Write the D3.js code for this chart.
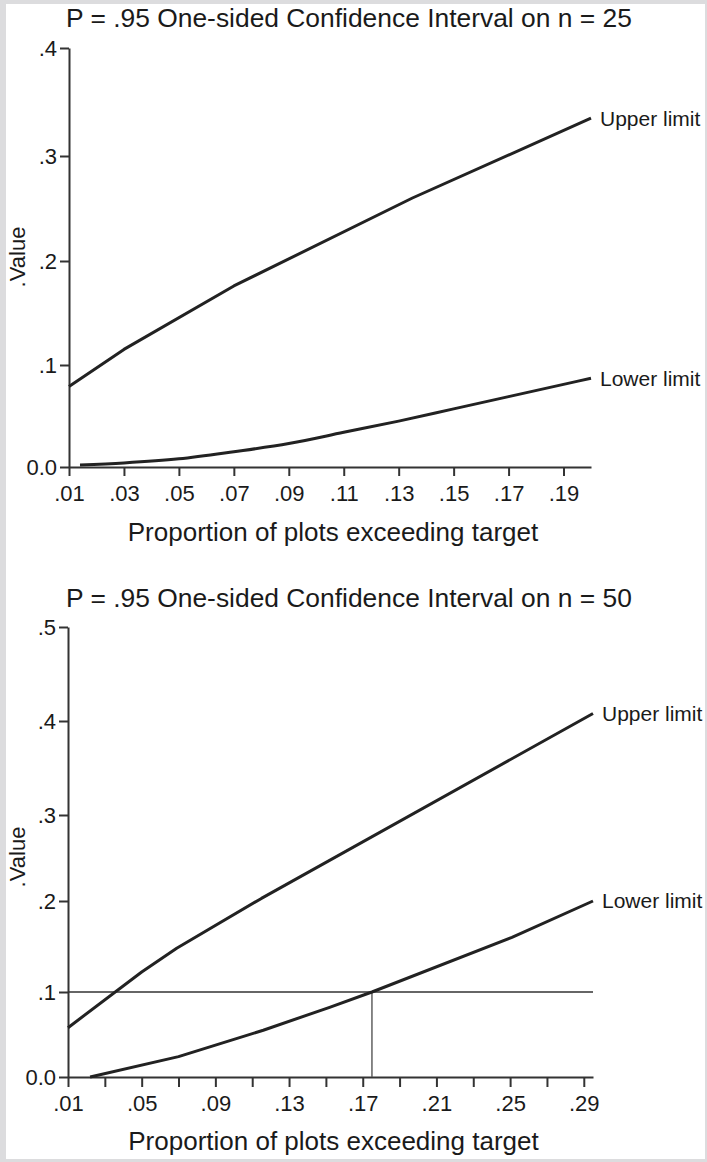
<!DOCTYPE html>
<html>
<head>
<meta charset="utf-8">
<script src="https://cdnjs.cloudflare.com/ajax/libs/d3/7.8.5/d3.min.js"></script>
<style>
  html, body { margin: 0; padding: 0; background: #dcdcde; }
  svg { display: block; }
  text { font-family: "Liberation Sans", Arial, sans-serif; fill: #1a1a1a; }
  .axis path, .axis line { stroke: #333; stroke-width: 2px; }
</style>
</head>
<body>
<svg id="chart" width="707" height="1162"></svg>
<script>
// ---- panel 1 : n = 25
const topTitle = "P = .95 One-sided Confidence Interval on n = 25";
const topXDomain = [0.01, 0.20];
const topXTicks = [0.01, 0.03, 0.05, 0.07, 0.09, 0.11, 0.13, 0.15, 0.17, 0.19];
const topXLabels = [".01", ".03", ".05", ".07", ".09", ".11", ".13", ".15", ".17", ".19"];
const topYTicks = [0, 0.1, 0.2, 0.3, 0.4];
const topYLabels = ["0.0", ".1", ".2", ".3", ".4"];
const topUpperX = [0.01, 0.03, 0.07, 0.135, 0.20];
const topUpperY = [0.079, 0.115, 0.176, 0.260, 0.335];
const topLowerX = [0.014, 0.03, 0.05, 0.07, 0.09, 0.11, 0.13, 0.15, 0.17, 0.19, 0.20];
const topLowerY = [0.002, 0.004, 0.008, 0.015, 0.023, 0.034, 0.045, 0.057, 0.069, 0.081, 0.087];

// ---- panel 2 : n = 50
const botTitle = "P = .95 One-sided Confidence Interval on n = 50";
const botXDomain = [0.01, 0.295];
const botXTicks = [0.01, 0.03, 0.05, 0.07, 0.09, 0.11, 0.13, 0.15, 0.17, 0.19, 0.21, 0.23, 0.25, 0.27, 0.29];
const botXLabels = [".01", "", ".05", "", ".09", "", ".13", "", ".17", "", ".21", "", ".25", "", ".29"];
const botYTicks = [0, 0.1, 0.2, 0.3, 0.4, 0.5];
const botYLabels = ["0.0", ".1", ".2", ".3", ".4", ".5"];
const botUpperX = [0.01, 0.05, 0.069, 0.115, 0.295];
const botUpperY = [0.058, 0.122, 0.148, 0.203, 0.408];
const botLowerX = [0.022, 0.07, 0.116, 0.152, 0.175, 0.251, 0.295];
const botLowerY = [0, 0.024, 0.055, 0.082, 0.100, 0.160, 0.200];
const refLevel = 0.1;
const refP = 0.175;

const xTitle = "Proportion of plots exceeding target";
const yTitle = ".Value";

const svg = d3.select("#chart");

// white page inside the grey frame
svg.append("rect")
    .attr("x", 6).attr("y", 4)
    .attr("width", 699).attr("height", 1155)
    .attr("fill", "#fff");

function drawPanel(p) {
  const x = d3.scaleLinear().domain(p.xDomain).range(p.xRange);
  // tick spacing of the scan is not quite even, so map tick by tick
  const y = d3.scaleLinear().domain(p.yTicks).range(p.yRange);
  const g = svg.append("g");

  g.append("text")
      .attr("x", p.titleX).attr("y", p.titleY)
      .attr("font-size", 26.4)
      .text(p.title);

  g.append("g")
      .attr("class", "axis")
      .attr("transform", "translate(" + p.xRange[0] + ",0)")
      .call(d3.axisLeft(y)
        .tickValues(p.yTicks)
        .tickFormat((d, i) => p.yLabels[i])
        .tickSize(9).tickSizeOuter(0).tickPadding(3));

  g.append("g")
      .attr("class", "axis")
      .attr("transform", "translate(0," + y(0) + ")")
      .call(d3.axisBottom(x)
        .tickValues(p.xTicks)
        .tickFormat((d, i) => p.xLabels[i])
        .tickSize(p.xTickSize).tickSizeOuter(0).tickPadding(p.xPad));

  g.selectAll(".axis")
      .attr("font-size", 22)
      .attr("font-family", null);
  g.selectAll(".axis text").attr("fill", "#1a1a1a");
  g.selectAll(".axis .domain").attr("fill", "none");

  g.append("text")
      .attr("x", d3.mean(p.xRange) + 3).attr("y", p.xTitleY)
      .attr("text-anchor", "middle")
      .attr("font-size", 26)
      .text(xTitle);

  g.append("text")
      .attr("transform", "translate(25," + p.yTitleY + ") rotate(-90)")
      .attr("text-anchor", "middle")
      .attr("font-size", 22)
      .text(yTitle);

  if (p.ref) {
    g.append("line")
        .attr("x1", x(p.xDomain[0])).attr("x2", x(p.xDomain[1]))
        .attr("y1", y(p.ref.level)).attr("y2", y(p.ref.level))
        .attr("stroke", "#333").attr("stroke-width", 1.6);
    g.append("line")
        .attr("x1", x(p.ref.p)).attr("x2", x(p.ref.p))
        .attr("y1", y(0)).attr("y2", y(p.ref.level))
        .attr("stroke", "#555").attr("stroke-width", 1.4);
  }

  const line = d3.line().x(d => x(d[0])).y(d => y(d[1]));
  const series = [
    { name: "Upper limit", pts: d3.zip(p.upperX, p.upperY), curve: d3.curveLinear },
    { name: "Lower limit", pts: d3.zip(p.lowerX, p.lowerY), curve: p.lowerCurve }
  ];
  series.forEach(s => {
    g.append("path")
        .datum(s.pts)
        .attr("fill", "none")
        .attr("stroke", "#222")
        .attr("stroke-width", 3)
        .attr("stroke-linejoin", "round")
        .attr("d", line.curve(s.curve));
    const last = s.pts[s.pts.length - 1];
    g.append("text")
        .attr("x", x(last[0]) + 9)
        .attr("y", y(last[1]))
        .attr("dy", "0.35em")
        .attr("font-size", 21)
        .text(s.name);
  });
}

drawPanel({
  title: topTitle, titleX: 66, titleY: 27,
  xDomain: topXDomain, xRange: [69, 591],
  yTicks: topYTicks, yRange: [467, 365, 261, 156, 48],
  xTicks: topXTicks, xLabels: topXLabels, yLabels: topYLabels,
  xTickSize: 9, xPad: 9, xTitleY: 541, yTitleY: 257,
  upperX: topUpperX, upperY: topUpperY,
  lowerX: topLowerX, lowerY: topLowerY, lowerCurve: d3.curveMonotoneX
});

drawPanel({
  title: botTitle, titleX: 66, titleY: 607,
  xDomain: botXDomain, xRange: [68, 593],
  yTicks: botYTicks, yRange: [1077, 992, 901, 815, 721, 627],
  xTicks: botXTicks, xLabels: botXLabels, yLabels: botYLabels,
  xTickSize: 10, xPad: 8, xTitleY: 1150, yTitleY: 857,
  upperX: botUpperX, upperY: botUpperY,
  lowerX: botLowerX, lowerY: botLowerY, lowerCurve: d3.curveLinear,
  ref: { level: refLevel, p: refP }
});
</script>
</body>
</html>
